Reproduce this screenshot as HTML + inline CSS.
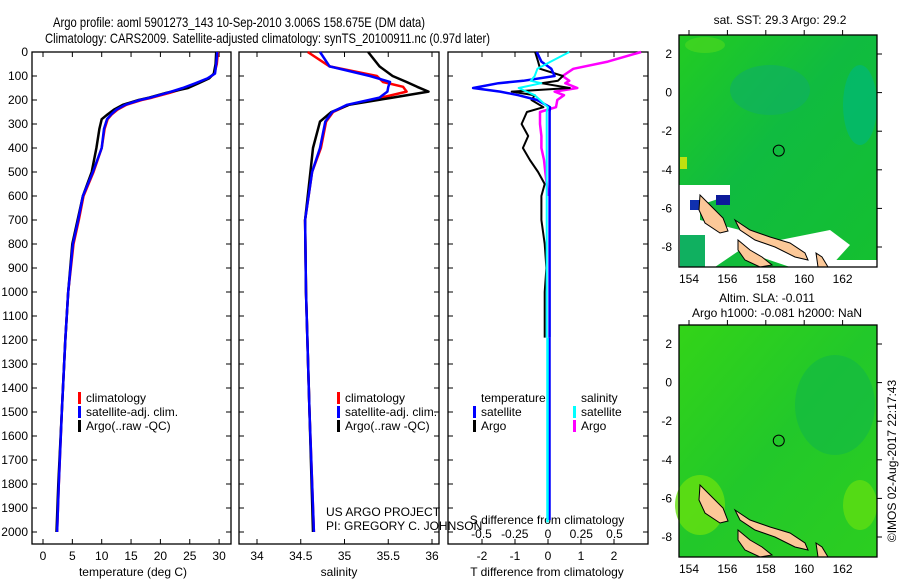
<!DOCTYPE html>
<html><head><meta charset="utf-8"><style>
html,body{margin:0;padding:0;background:#fff;}
svg{display:block;font-family:"Liberation Sans",sans-serif;}
</style></head><body>
<svg id="fig" width="900" height="580" viewBox="0 0 900 580">
<text x="53" y="27" font-size="14" textLength="372" lengthAdjust="spacingAndGlyphs">Argo profile: aoml 5901273_143 10-Sep-2010 3.006S 158.675E (DM data)</text>
<text x="45" y="43" font-size="14" textLength="445" lengthAdjust="spacingAndGlyphs">Climatology: CARS2009. Satellite-adjusted climatology: synTS_20100911.nc (0.97d later)</text>
<g id="plots"></g>
<g id="maps"></g>
</svg>
<script>
// ---- data ----
const depthTicks=[0,100,200,300,400,500,600,700,800,900,1000,1100,1200,1300,1400,1500,1600,1700,1800,1900,2000];
const tTicks=[0,5,10,15,20,25,30];
const sTicks=[34,34.5,35,35.5,36];
const dTTicks=[-2,-1,0,1,2];
const dSTicks=[-0.5,-0.25,0,0.25,0.5];
const dSLabels=["-0.5","-0.25","0","0.25","0.5"];

const tDepth=[0,50,90,110,130,150,170,190,200,220,240,260,280,320,400,500,600,700,800,1000,1200,1500,1800,2000];
const tClim=[29.8,29.6,29.2,28.2,26.3,24.2,21.6,18.6,16.8,14.2,12.7,11.7,11.0,10.5,10.0,8.6,6.9,6.1,5.2,4.3,3.8,3.2,2.7,2.4];
const tSat=[29.7,29.5,29.3,28.0,26.0,23.8,21.2,18.3,16.5,14.0,12.5,11.6,10.9,10.4,10.0,8.5,6.8,6.0,5.1,4.3,3.8,3.2,2.7,2.4];
const tArgo=[29.5,29.4,29.1,28.3,26.5,24.7,21.0,18.1,16.3,13.6,12.1,11.0,10.0,9.6,9.1,8.3,6.8,5.9,5.0,4.3,3.8,3.2,2.6,2.3];

const sDepth=[0,60,100,125,145,165,190,220,250,290,400,500,700,1000,1500,2000];
const sClim=[34.58,34.83,35.37,35.44,35.67,35.71,35.42,35.05,34.87,34.79,34.73,34.63,34.55,34.56,34.60,34.65];
const sSat=[34.72,34.83,35.29,35.52,35.50,35.49,35.40,35.03,34.86,34.78,34.72,34.63,34.55,34.56,34.60,34.65];
const sArgo=[35.27,35.40,35.55,35.71,35.83,35.96,35.55,35.05,34.85,34.72,34.64,34.61,34.55,34.56,34.60,34.64];

const dDepth=[0,40,70,100,120,130,150,165,180,200,230,250,300,350,400,450,500,550,600,700,800,900,1000,1100,1190];
const dTSat=[-0.34,-0.2,0.1,0.2,-0.75,-1.5,-2.27,-1.45,-0.9,-0.33,0.06,0.05,0.05,0.05,0.05,0.05,0.05,0.05,0.05,0.05,0.05,0.05,0.05,0.05,0.05];
const dTArgo=[-0.39,-0.3,-0.24,0.45,0.3,-0.2,0.66,-1.1,-0.4,-0.5,-0.14,-0.64,-0.8,-0.6,-0.76,-0.55,-0.3,-0.1,-0.2,-0.2,-0.1,-0.05,-0.1,-0.1,-0.1];
const dSSat=[0.16,0.02,-0.08,-0.1,-0.13,-0.05,-0.22,-0.16,-0.1,-0.06,0,-0.01,-0.01,-0.01,-0.01,-0.01,-0.01,-0.01,-0.01,-0.01,-0.01,-0.01,-0.01,-0.01,-0.01];
const dSArgo=[0.70,0.45,0.19,0.11,0.16,0.13,0.22,0.05,0.12,0.07,0.06,-0.06,-0.06,-0.05,-0.05,-0.03,-0.02,-0.01,0,0,0,0,0,0,0];

const NS="http://www.w3.org/2000/svg";
function mk(tag,attrs,parent){const e=document.createElementNS(NS,tag);for(const k in attrs)e.setAttribute(k,attrs[k]);parent.appendChild(e);return e;}
const plotsG=document.getElementById('plots');
const Y=d=>52+d*0.24;
const panels=[
 {x0:32,x1:231,sx:v=>43+v*5.87,name:'temperature'},
 {x0:239,x1:439,sx:v=>257+(v-34)*87.5,name:'salinity'},
 {x0:448,x1:648,sx:v=>548+v*33,name:'difference'}
];
const yTop=52,yBot=544;
panels.forEach(p=>{
  const r=mk('rect',{x:p.x0,y:yTop,width:p.x1-p.x0,height:yBot-yTop,fill:'none',stroke:'#000','stroke-width':1.3},plotsG);
  
  
  depthTicks.forEach(d=>{
    mk('line',{x1:p.x0,x2:p.x0+5,y1:Y(d),y2:Y(d),stroke:'#000'},plotsG);
    mk('line',{x1:p.x1-5,x2:p.x1,y1:Y(d),y2:Y(d),stroke:'#000'},plotsG);
  });
});
depthTicks.forEach(d=>{
  const t=mk('text',{x:28,y:Y(d)+4,'font-size':12,'text-anchor':'end'},plotsG);
  t.textContent=d;
  
  
});
function xticks(p,ticks,labels,ly){
  ticks.forEach((v,i)=>{
    const x=p.sx(v);
    mk('line',{x1:x,x2:x,y1:yBot-5,y2:yBot,stroke:'#000'},plotsG);
    mk('line',{x1:x,x2:x,y1:yTop,y2:yTop+5,stroke:'#000'},plotsG);
    const t=mk('text',{x:x,y:ly,'font-size':12,'text-anchor':'middle'},plotsG);
    t.textContent=labels?labels[i]:v;
    
    
  });
}
xticks(panels[0],tTicks,null,560);
xticks(panels[1],sTicks,null,560);
xticks(panels[2],dTTicks,null,560);
dSTicks.forEach((v,i)=>{
  const x=548+v*133;
  const t=mk('text',{x:x,y:538,'font-size':12,'text-anchor':'middle'},plotsG);
  t.textContent=dSLabels[i];
  
  
});
function lab(x,y,s,name,anchor){const t=mk('text',{x:x,y:y,'font-size':12,'text-anchor':anchor||'middle'},plotsG);t.textContent=s;return t;}
lab(133,576,'temperature (deg C)','x-axis-title-temperature');
lab(339,576,'salinity','x-axis-title-salinity');
lab(547,576,'T difference from climatology','x-axis-title-t-diff');
lab(547,524,'S difference from climatology','x-axis-title-s-diff');
lab(326,516,'US ARGO PROJECT','credit-project','start');
lab(326,530,'PI: GREGORY C. JOHNSON','credit-pi','start');

function drawLine(xs,ds,sx,color,name,w){
  const pts=xs.map((v,i)=>sx(v).toFixed(1)+','+Y(ds[i]).toFixed(1)).join(' ');
  const e=mk('polyline',{points:pts,fill:'none',stroke:color,'stroke-width':w||2.5,'stroke-linejoin':'round'},plotsG);
  
  
}
const P=panels;
drawLine(tClim,tDepth,P[0].sx,'#f00','temperature-climatology-line');
drawLine(tArgo,tDepth,P[0].sx,'#000','temperature-argo-line');
drawLine(tSat,tDepth,P[0].sx,'#00f','temperature-satellite-line');
drawLine(sClim,sDepth,P[1].sx,'#f00','salinity-climatology-line');
drawLine(sArgo,sDepth,P[1].sx,'#000','salinity-argo-line');
drawLine(sSat,sDepth,P[1].sx,'#00f','salinity-satellite-line');
const sdx=v=>548+v*133;
drawLine(dSArgo.slice(0,19),dDepth.slice(0,19),sdx,'#f0f','s-diff-argo-line');
drawLine(dTArgo,dDepth,P[2].sx,'#000','t-diff-argo-line',2);
drawLine(dTSat,dDepth,P[2].sx,'#00f','t-diff-satellite-line');
mk('line',{x1:549.5,x2:549.5,y1:Y(1190),y2:Y(1950),stroke:'#00f','stroke-width':2.5},plotsG);
drawLine(dSSat,dDepth,sdx,'#0ff','s-diff-satellite-line',2);
mk('line',{x1:547.5,x2:547.5,y1:Y(1190),y2:Y(1960),stroke:'#0ff','stroke-width':2.5},plotsG);

function legend(x,y,color,text,name){
  mk('rect',{x:x,y:y-10,width:3,height:12,fill:color},plotsG);
  lab(x+8,y,text,name,'start');
}
legend(78,402,'#f00','climatology','legend-climatology');
legend(78,416,'#00f','satellite-adj. clim.','legend-satellite');
legend(78,430,'#000','Argo(..raw -QC)','legend-argo');
legend(337,402,'#f00','climatology','legend-climatology-2');
legend(337,416,'#00f','satellite-adj. clim.','legend-satellite-2');
legend(337,430,'#000','Argo(..raw -QC)','legend-argo-2');
lab(481,402,'temperature','legend-header-temperature','start');
lab(581,402,'salinity','legend-header-salinity','start');
legend(473,416,'#00f','satellite','legend-t-satellite');
legend(473,430,'#000','Argo','legend-t-argo');
legend(573,416,'#0ff','satellite','legend-s-satellite');
legend(573,430,'#f0f','Argo','legend-s-argo');

// ---- maps ----
const lonTicks=[154,156,158,160,162];
const latTicks=[2,0,-2,-4,-6,-8];
const mapsG=document.getElementById('maps');
function drawMap(y0,isSST){
  const x0=679,x1=877,y1=y0+232;
  const LX=l=>689+(l-154)*19.2, LY=a=>y0+19+(2-a)*19.3;
  const g=mk('g',{},mapsG);
  
  
  const id=isSST?'gA':'gB';
  const defs=mk('defs',{},g);
  const lg=mk('linearGradient',{id:id,x1:0,y1:0,x2:1,y2:1},defs);
  if(isSST){
    mk('stop',{offset:0,'stop-color':'#22cc22'},lg);
    mk('stop',{offset:0.45,'stop-color':'#10bb40'},lg);
    mk('stop',{offset:1,'stop-color':'#14c030'},lg);
  }else{
    mk('stop',{offset:0,'stop-color':'#33d418'},lg);
    mk('stop',{offset:0.5,'stop-color':'#22c82a'},lg);
    mk('stop',{offset:1,'stop-color':'#2cce20'},lg);
  }
  mk('rect',{x:x0,y:y0,width:x1-x0,height:y1-y0,fill:'url(#'+id+')'},g);
  if(isSST){
    mk('ellipse',{cx:770,cy:y0+55,rx:40,ry:25,fill:'#10b060',opacity:0.7},g);
    mk('ellipse',{cx:860,cy:y0+70,rx:17,ry:40,fill:'#00b878',opacity:0.7},g);
    mk('ellipse',{cx:705,cy:y0+10,rx:20,ry:8,fill:'#44d420',opacity:0.8},g);
    mk('polygon',{points:[[679,y0+150],[730,y0+150],[730,y0+160],[700,y0+170],[700,y0+185],[760,y0+200],[800,y0+215],[830,y0+225],[877,y0+225],[877,y0+232],[790,y0+232],[740,y0+215],[715,y0+232],[679,y0+232]].map(p=>p.join(',')).join(' '),fill:'#fff'},g);
    mk('polygon',{points:[[780,y0+205],[830,y0+195],[850,y0+210],[830,y0+232],[800,y0+225]].map(p=>p.join(',')).join(' '),fill:'#fff'},g);
    mk('rect',{x:716,y:y0+160,width:14,height:10,fill:'#0c1a9a'},g);
    mk('rect',{x:690,y:y0+165,width:10,height:10,fill:'#1030b0'},g);
    mk('rect',{x:680,y:y0+122,width:7,height:12,fill:'#c0e010'},g);
    mk('rect',{x:680,y:y0+200,width:25,height:32,fill:'#10b060'},g);
  }else{
    mk('ellipse',{cx:700,cy:y0+180,rx:25,ry:30,fill:'#66e010',opacity:0.8},g);
    mk('ellipse',{cx:860,cy:y0+180,rx:17,ry:25,fill:'#66e010',opacity:0.7},g);
    mk('ellipse',{cx:835,cy:y0+80,rx:40,ry:50,fill:'#10b848',opacity:0.6},g);
  }
  const land=[
   [[700,y0+160],[710,y0+170],[723,y0+183],[728,y0+196],[720,y0+198],[705,y0+188],[699,y0+175]],
   [[735,y0+185],[750,y0+195],[770,y0+202],[790,y0+208],[805,y0+218],[808,y0+225],[795,y0+222],[775,y0+212],[755,y0+205],[740,y0+195]],
   [[738,y0+205],[750,y0+215],[762,y0+222],[772,y0+230],[760,y0+232],[745,y0+225],[738,y0+215]],
   [[816,y0+218],[822,y0+222],[828,y0+232],[818,y0+232]]
  ];
  land.forEach(pl=>{
    const e=mk('polygon',{points:pl.map(p=>p.join(',')).join(' '),fill:'#fcc898',stroke:'#000','stroke-width':1},g);
    
    
  });
  mk('rect',{x:x0,y:y0,width:x1-x0,height:y1-y0,fill:'none',stroke:'#000','stroke-width':1.3},g);
  const c=mk('circle',{cx:LX(158.675),cy:LY(-3.006),r:5.5,fill:'none',stroke:'#000','stroke-width':1},g);
  
  
  lonTicks.forEach(l=>{
    mk('line',{x1:LX(l),x2:LX(l),y1:y0,y2:y0-5,stroke:'#000'},g);
    const t=mk('text',{x:LX(l),y:y1+16,'font-size':12,'text-anchor':'middle'},g);
    t.textContent=l;
    
    
  });
  latTicks.forEach(a=>{
    mk('line',{x1:x1,x2:x1+5,y1:LY(a),y2:LY(a),stroke:'#000'},g);
    const t=mk('text',{x:672,y:LY(a)+4,'font-size':12,'text-anchor':'end'},g);
    t.textContent=a;
    
    
  });
}
drawMap(35,true);
drawMap(325,false);
function mt(x,y,s,name,extra){const t=mk('text',Object.assign({x:x,y:y,'font-size':12,'text-anchor':'middle'},extra||{}),mapsG);t.textContent=s;}
mt(780,24,'sat. SST: 29.3 Argo: 29.2','sst-map-title');
mt(767,302,'Altim. SLA: -0.011','sla-map-title');
mt(777,317,'Argo h1000: -0.081 h2000: NaN','argo-height-title');
mt(0,0,'©IMOS 02-Aug-2017 22:17:43','timestamp',{transform:'translate(896,461) rotate(-90)'});
</script>
</body></html>
